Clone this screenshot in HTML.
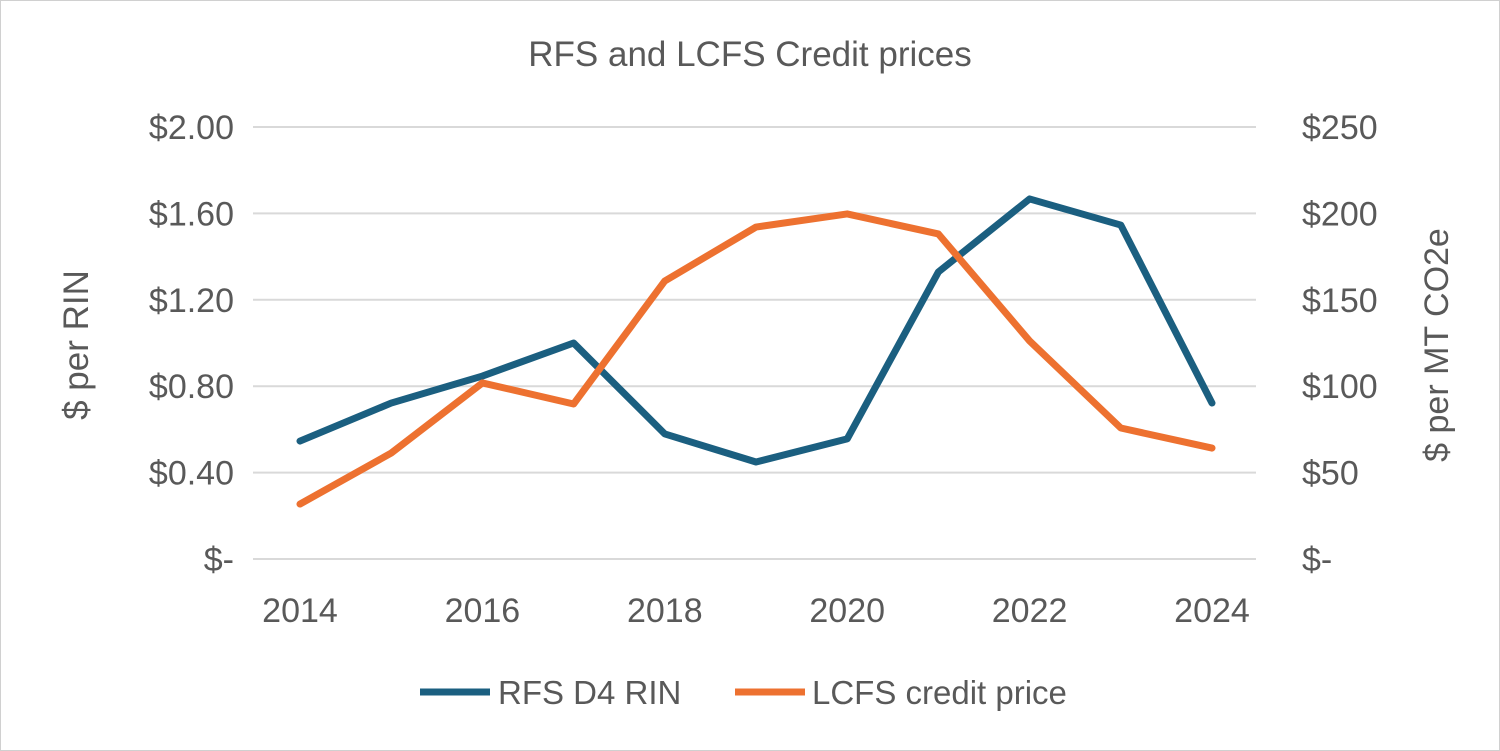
<!DOCTYPE html>
<html><head><meta charset="utf-8"><style>
html,body{margin:0;padding:0;background:#fff;}
svg{display:block;font-family:"Liberation Sans",sans-serif;}
</style></head><body>
<svg id="chart" width="1500" height="751">
<rect x="0.5" y="0.5" width="1499" height="750" fill="#fff" stroke="#d0d0d0"/>
<text x="750" y="66" text-anchor="middle" font-size="35" fill="#595959">RFS and LCFS Credit prices</text>
<g id="grid"></g><g id="ticks"></g><g id="series"></g>
<text transform="translate(88,345) rotate(-90)" text-anchor="middle" font-size="35" fill="#595959">$ per RIN</text>
<text transform="translate(1448,345) rotate(-90)" text-anchor="middle" font-size="34" fill="#595959">$ per MT CO2e</text>
<line x1="420" y1="692" x2="490" y2="692" stroke="#1b5f80" stroke-width="7"/>
<text x="498" y="704" font-size="33" fill="#595959">RFS D4 RIN</text>
<line x1="735" y1="692" x2="805" y2="692" stroke="#ed7130" stroke-width="7"/>
<text x="812" y="704" font-size="33" fill="#595959">LCFS credit price</text>
</svg>
<script>
const years=[2014,2015,2016,2017,2018,2019,2020,2021,2022,2023,2024];
const rfsValues=[0.546,0.722,0.847,1.0,0.579,0.449,0.556,1.329,1.667,1.546,0.722];
const lcfsValues=[31.8,61.3,101.9,89.7,160.9,192.1,199.7,188.1,126.2,75.8,64.2];
const leftTicks=[0,0.4,0.8,1.2,1.6,2.0];
const leftTickLabels=["$-","$0.40","$0.80","$1.20","$1.60","$2.00"];
const rightTicks=[0,50,100,150,200,250];
const rightTickLabels=["$-","$50","$100","$150","$200","$250"];
const xTickYears=[2014,2016,2018,2020,2022,2024];
const NS="http://www.w3.org/2000/svg";
const x0=300,x1=1212,yTop=127,yBot=559;
const xs=v=>x0+(v-2014)/(10)*(x1-x0);
const yl=v=>yBot-v/2.0*(yBot-yTop);
const yr=v=>yBot-v/250*(yBot-yTop);
function mk(tag,attrs,parent){const e=document.createElementNS(NS,tag);for(const k in attrs)e.setAttribute(k,attrs[k]);document.getElementById(parent).appendChild(e);return e;}
leftTicks.forEach((t,i)=>{
 const g=mk('line',{x1:253,x2:1256,y1:yl(t),y2:yl(t),stroke:'#d9d9d9','stroke-width':2},'grid');
 
 
 const l=mk('text',{x:234,y:yl(t)+12,'text-anchor':'end','font-size':34,fill:'#595959'},'ticks');
 l.textContent=leftTickLabels[i];
 
 
});
rightTicks.forEach((t,i)=>{
 const l=mk('text',{x:1302,y:yr(t)+12,'font-size':34,fill:'#595959'},'ticks');
 l.textContent=rightTickLabels[i];
 
 
});
xTickYears.forEach(y=>{
 const l=mk('text',{x:xs(y),y:622,'text-anchor':'middle','font-size':34,fill:'#595959'},'ticks');
 l.textContent=y;
 
 
});
const p1=mk('polyline',{points:years.map((y,i)=>xs(y)+','+yl(rfsValues[i])).join(' '),fill:'none',stroke:'#1b5f80','stroke-width':7,'stroke-linejoin':'round','stroke-linecap':'round'},'series');


const p2=mk('polyline',{points:years.map((y,i)=>xs(y)+','+yr(lcfsValues[i])).join(' '),fill:'none',stroke:'#ed7130','stroke-width':7,'stroke-linejoin':'round','stroke-linecap':'round'},'series');


</script>
</body></html>
